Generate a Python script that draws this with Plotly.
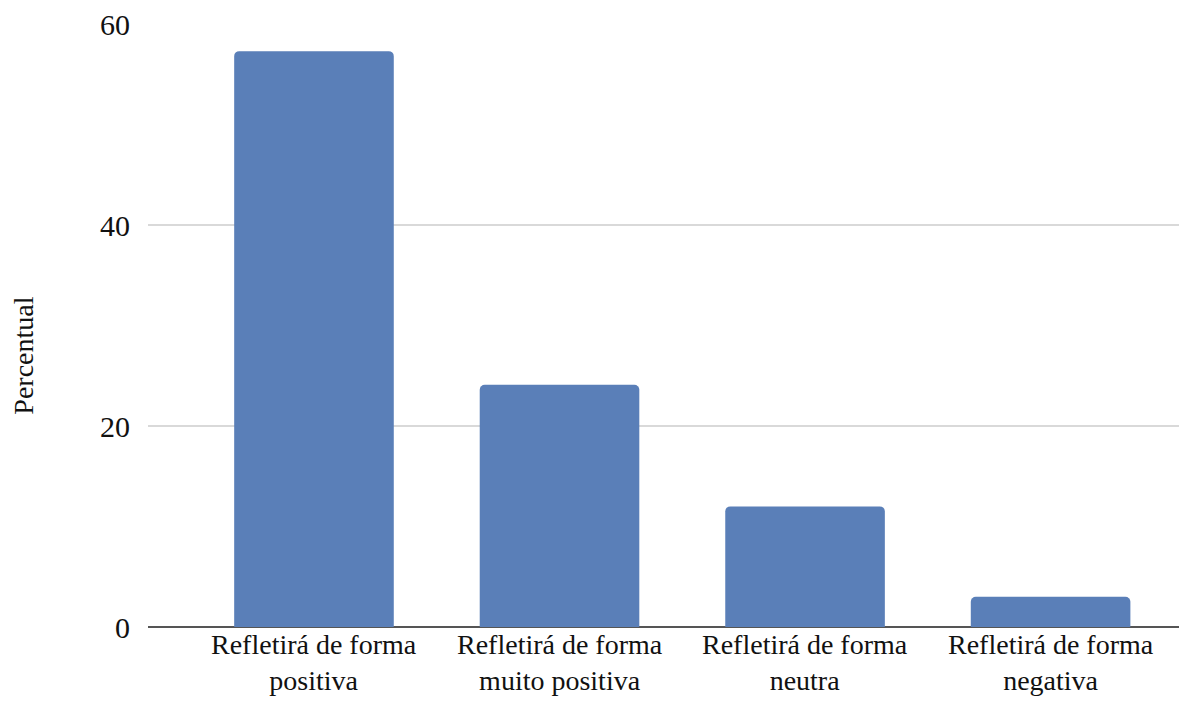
import plotly.graph_objects as go

line1 = ["Refletirá de forma", "Refletirá de forma", "Refletirá de forma", "Refletirá de forma"]
line2 = ["positiva", "muito positiva", "neutra", "negativa"]
values = [57.3, 24.1, 12.0, 3.0]
y_ticks = [0, 20, 40, 60]
y_title = "Percentual"

xs = list(range(len(values)))
fig = go.Figure(go.Bar(
    x=xs, y=values,
    marker=dict(color="#5a7fb8", cornerradius=5, line=dict(width=0)),
    width=0.65,
))

font = "Liberation Serif, Times New Roman, serif"
for i, (a, b) in enumerate(zip(line1, line2)):
    fig.add_annotation(x=i, y=0, xref="x", yref="y", text=a + "<br>" + b, showarrow=False,
                       xanchor="center", yanchor="top", yshift=-1, borderpad=0,
                       font=dict(size=28, family=font, color="#111"))

fig.add_annotation(x=(24 - 148) / (1179 - 148), xref="paper", y=0.45, yref="paper",
                   text=y_title, textangle=-90, xanchor="center", yanchor="middle",
                   showarrow=False, font=dict(size=28, family=font, color="#111"))

fig.update_layout(
    width=1179, height=702,
    margin=dict(l=148, r=0, t=24, b=75),
    plot_bgcolor="white", paper_bgcolor="white",
    showlegend=False,
    font=dict(family=font, size=29, color="#111"),
    xaxis=dict(
        range=[-0.676, 3.523],
        tickmode="array", tickvals=xs, showticklabels=False,
        showgrid=False, zeroline=False, showline=False,
        automargin=False,
    ),
    yaxis=dict(
        range=[0, 60], tickmode="array", tickvals=y_ticks,
        showgrid=True, gridcolor="#d9d9d9", gridwidth=1.5,
        zeroline=True, zerolinecolor="#555", zerolinewidth=2,
        showline=False, tickfont=dict(size=30), ticklabelstandoff=17,
        automargin=False,
    ),
)
fig.write_html("out.html")
